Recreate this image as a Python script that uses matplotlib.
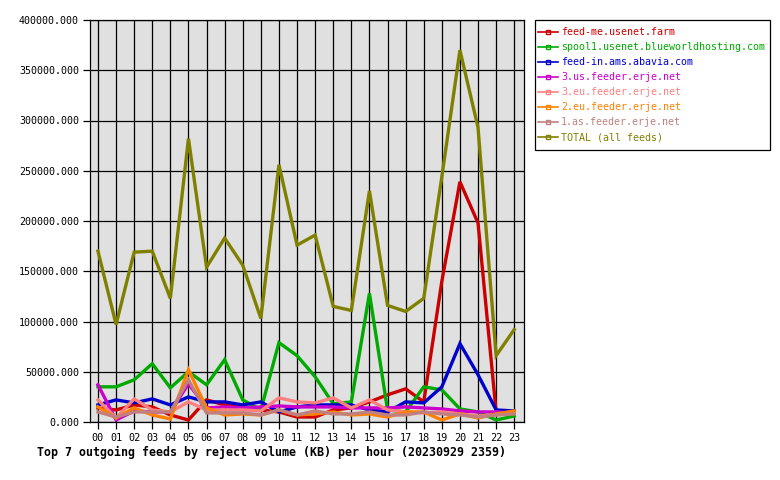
import matplotlib
matplotlib.use('Agg')
import matplotlib.pyplot as plt
from matplotlib.lines import Line2D
from matplotlib.patches import Rectangle

hours = ['00','01','02','03','04','05','06','07','08','09','10','11',
         '12','13','14','15','16','17','18','19','20','21','22','23']

feed_me = [14,12,17,15,7,2,22,17,14,12,10,5,5,12,14,20,27,33,20,140,239,198,10,8]
spool1 = [35,35,42,58,34,50,37,62,22,12,79,66,45,18,20,128,12,10,35,32,13,10,2,6]
abavia = [17,22,19,23,17,25,20,20,17,20,10,15,17,17,17,12,10,20,19,35,78,47,12,11]
us_erje = [37,2,11,10,10,38,14,15,14,15,16,15,15,15,14,14,14,15,14,13,11,10,10,9]
eu3_erje = [22,4,23,12,10,20,12,12,12,11,24,20,19,24,14,22,12,10,9,10,8,6,7,9]
eu2_erje = [15,4,14,7,3,52,14,7,8,7,12,7,8,10,7,8,5,10,10,2,8,4,8,11]
as1_erje = [10,5,10,10,10,42,9,9,9,7,12,7,11,8,8,10,7,7,10,8,7,5,7,8]
total = [170,97,169,170,123,282,154,183,156,103,256,176,186,115,111,230,116,110,123,244,370,293,66,92]

names = ['feed-me.usenet.farm', 'spool1.usenet.blueworldhosting.com',
         'feed-in.ams.abavia.com', '3.us.feeder.erje.net', '3.eu.feeder.erje.net',
         '2.eu.feeder.erje.net', '1.as.feeder.erje.net', 'TOTAL (all feeds)']
series = [feed_me, spool1, abavia, us_erje, eu3_erje, eu2_erje, as1_erje, total]
colors = ['#cc0000', '#00aa00', '#0000cc', '#cc00cc', '#ff8080',
          '#ff8000', '#c08080', '#808000']

font = 'DejaVu Sans Mono'
fig = plt.figure(figsize=(7.8, 4.8), dpi=100)
ax = fig.add_axes([90/780, 1-422/480, 434/780, 402/480])
ax.set_facecolor('#e0e0e0')

x = list(range(len(hours)))
for vals, c in zip(series, colors):
    ax.plot(x, [v*1000 for v in vals], color=c, lw=2.4, solid_joinstyle='miter')

ax.set_xlim(-0.44, 23.54)
ax.set_ylim(0, 400000)
ax.set_xticks(x)
ax.set_xticklabels(hours, fontfamily=font, fontsize=7.3)
yt = list(range(0, 400001, 50000))
ax.set_yticks(yt)
ax.set_yticklabels(['%.3f' % v for v in yt], fontfamily=font, fontsize=7.2)
ax.grid(True, color='black', lw=0.9)
ax.set_axisbelow(True)
ax.tick_params(direction='out', length=5, width=0.9, color='black', pad=3)
for s in ax.spines.values():
    s.set_linewidth(0.9)

fig.text(37/780, 1-452/480,
         'Top 7 outgoing feeds by reject volume (KB) per hour (20230929 2359)',
         fontfamily=font, fontsize=8.4, fontweight='bold', ha='left', va='center')

# legend box drawn separately
fig.patches.append(Rectangle((535/780, 1-150/480), 235/780, 130/480,
                             transform=fig.transFigure, fill=False,
                             edgecolor='black', lw=0.9))
handles = [Line2D([], [], color=c, lw=1.2, marker='s', markersize=2.5,
                  markerfacecolor='none', markeredgecolor=c) for c in colors]
leg = fig.legend(handles, names, loc='upper left',
                 bbox_to_anchor=(538/780, 1-27/480), frameon=False,
                 prop={'family': font, 'size': 7.2}, labelcolor=colors,
                 handlelength=2.0, handletextpad=0.3, labelspacing=0.5,
                 borderpad=0, borderaxespad=0)

fig.savefig('out.png', dpi=100)
